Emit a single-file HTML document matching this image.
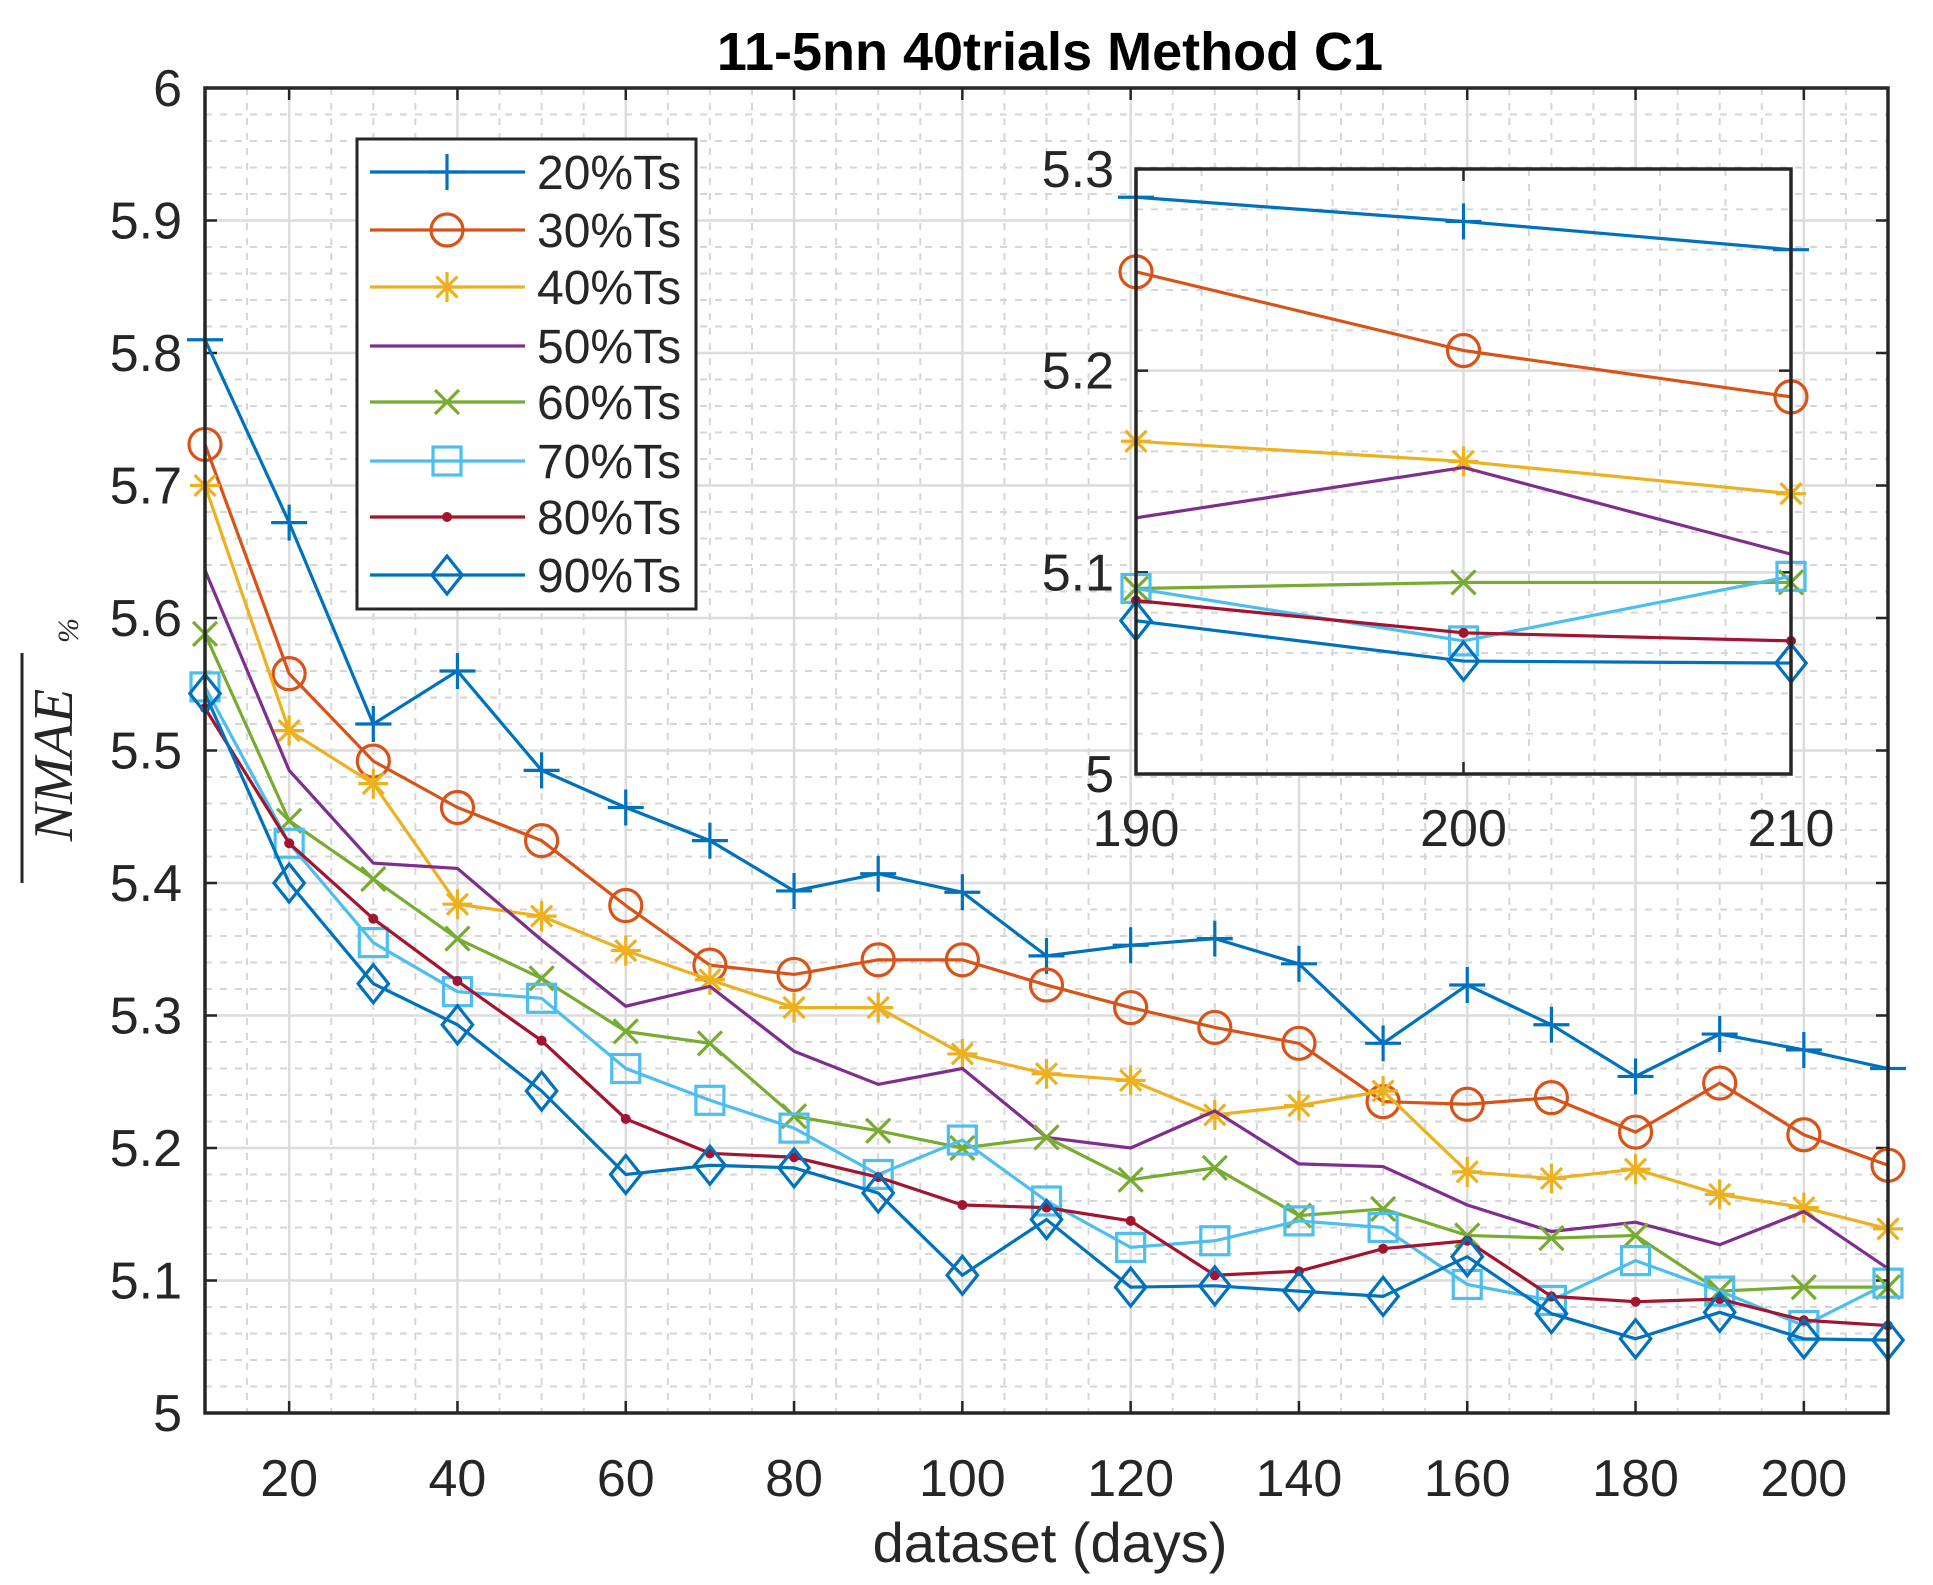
<!DOCTYPE html>
<html><head><meta charset="utf-8"><style>
html,body{margin:0;padding:0;background:#fff;width:1933px;height:1585px;overflow:hidden}
svg text{font-family:"Liberation Sans",sans-serif;fill:#262626}
</style></head><body>
<svg id="s" width="1933" height="1585" xmlns="http://www.w3.org/2000/svg">
<rect width="1933" height="1585" fill="#fff"/>
<text x="1050" y="70" font-size="54" font-weight="bold" text-anchor="middle" style="fill:#000">11-5nn 40trials Method C1</text>
<text x="1050" y="1562" font-size="56" text-anchor="middle">dataset (days)</text>
<g transform="translate(72,765) rotate(-90)">
<text x="0" y="0" font-size="56" font-style="italic" text-anchor="middle" style="font-family:'Liberation Serif',serif">NMAE</text>
<line x1="-118" y1="-50" x2="112" y2="-50" stroke="#262626" stroke-width="3"/>
<text x="122" y="6" font-size="30" font-style="italic" style="font-family:'Liberation Serif',serif">%</text>
</g>
<g id="main"></g>
</svg>
<script>
const NS="http://www.w3.org/2000/svg";
const svg=document.getElementById('main');
function el(t,a,p){const e=document.createElementNS(NS,t);for(const k in a)e.setAttribute(k,a[k]);(p||svg).appendChild(e);return e;}
const cols=['#0072BD','#D95319','#EDB120','#7E2F8E','#77AC30','#4DBEEE','#A2142F','#0072BD'];
const mk=['plus','circle','star','none','x','square','dot','diamond'];
const D=[
[5.81,5.672,5.52,5.56,5.485,5.457,5.432,5.394,5.407,5.393,5.345,5.353,5.358,5.339,5.279,5.323,5.293,5.254,5.286,5.274,5.26],
[5.731,5.558,5.492,5.457,5.432,5.383,5.338,5.331,5.342,5.342,5.323,5.306,5.291,5.279,5.235,5.233,5.238,5.212,5.249,5.21,5.187],
[5.70,5.515,5.475,5.384,5.375,5.349,5.327,5.306,5.306,5.271,5.256,5.251,5.225,5.232,5.243,5.182,5.177,5.184,5.165,5.155,5.139],
[5.636,5.485,5.415,5.411,5.357,5.307,5.322,5.273,5.248,5.26,5.208,5.2,5.228,5.188,5.186,5.157,5.137,5.144,5.127,5.152,5.109],
[5.588,5.447,5.403,5.358,5.328,5.288,5.279,5.224,5.213,5.2,5.208,5.176,5.185,5.149,5.154,5.134,5.132,5.134,5.092,5.095,5.095],
[5.548,5.43,5.355,5.318,5.313,5.26,5.236,5.215,5.18,5.206,5.16,5.125,5.13,5.145,5.14,5.097,5.085,5.115,5.092,5.066,5.098],
[5.532,5.43,5.373,5.326,5.281,5.222,5.196,5.193,5.178,5.157,5.155,5.145,5.104,5.107,5.124,5.13,5.088,5.084,5.086,5.07,5.066],
[5.543,5.4,5.324,5.293,5.243,5.18,5.187,5.185,5.166,5.104,5.146,5.095,5.096,5.092,5.088,5.118,5.075,5.056,5.076,5.056,5.055]];
function marker(g,type,x,y,c,s){
 s=s||1;const st={stroke:c,'stroke-width':3.2,fill:'none'};
 if(type==='plus'){el('path',Object.assign({d:`M${x-18*s} ${y}H${x+18*s}M${x} ${y-18*s}V${y+18*s}`},st),g);}
 else if(type==='circle'){el('circle',Object.assign({cx:x,cy:y,r:16*s},st),g);}
 else if(type==='star'){const r=15*s,d=r*0.7;el('path',Object.assign({d:`M${x-r} ${y}H${x+r}M${x} ${y-r}V${y+r}M${x-d} ${y-d}L${x+d} ${y+d}M${x-d} ${y+d}L${x+d} ${y-d}`},st),g);}
 else if(type==='x'){const d=12*s;el('path',Object.assign({d:`M${x-d} ${y-d}L${x+d} ${y+d}M${x-d} ${y+d}L${x+d} ${y-d}`},st),g);}
 else if(type==='square'){const d=14*s;el('rect',Object.assign({x:x-d,y:y-d,width:2*d,height:2*d},st),g);}
 else if(type==='dot'){el('circle',{cx:x,cy:y,r:5,fill:c},g);}
 else if(type==='diamond'){const d=19*s;el('path',Object.assign({d:`M${x} ${y-d}L${x+d*0.8} ${y}L${x} ${y+d}L${x-d*0.8} ${y}Z`},st),g);}
}
function axes(L,T,R,B,x0,x1,y0,y1,xmaj,xmin,ymaj,ymin,fs,xlabY,ylabR,xfmt,yfmt,clipId){
 const X=v=>L+(v-x0)/(x1-x0)*(R-L), Y=v=>B-(v-y0)/(y1-y0)*(B-T);
 el('rect',{x:L,y:T,width:R-L,height:B-T,fill:'#fff'});
 const eps=1e-6;
 for(let v=Math.ceil(x0/xmin)*xmin;v<=x1+eps;v+=xmin){if(Math.abs(v/xmaj-Math.round(v/xmaj))<eps)continue;el('line',{x1:X(v),x2:X(v),y1:T,y2:B,stroke:'#d6d6d6','stroke-width':2,'stroke-dasharray':'7 8'});}
 for(let v=y0;v<=y1+eps;v+=ymin){if(Math.abs(v/ymaj-Math.round(v/ymaj))<1e-4)continue;el('line',{x1:L,x2:R,y1:Y(v),y2:Y(v),stroke:'#d6d6d6','stroke-width':2,'stroke-dasharray':'7 8'});}
 for(let v=Math.ceil(x0/xmaj)*xmaj;v<=x1+eps;v+=xmaj){el('line',{x1:X(v),x2:X(v),y1:T,y2:B,stroke:'#dcdcdc','stroke-width':2.5});
  el('line',{x1:X(v),x2:X(v),y1:B,y2:B-12,stroke:'#262626','stroke-width':2.5});el('line',{x1:X(v),x2:X(v),y1:T,y2:T+12,stroke:'#262626','stroke-width':2.5});
  el('text',{x:X(v),y:xlabY,'font-size':fs,'text-anchor':'middle'}).textContent=xfmt(v);}
 for(let v=y0;v<=y1+eps;v+=ymaj){el('line',{x1:L,x2:R,y1:Y(v),y2:Y(v),stroke:'#dcdcdc','stroke-width':2.5});
  el('line',{x1:L,x2:L+12,y1:Y(v),y2:Y(v),stroke:'#262626','stroke-width':2.5});el('line',{x1:R,x2:R-12,y1:Y(v),y2:Y(v),stroke:'#262626','stroke-width':2.5});
  el('text',{x:ylabR,y:Y(v)+18,'font-size':fs,'text-anchor':'end'}).textContent=yfmt(v);}
 const cp=el('clipPath',{id:clipId});el('rect',{x:L-25,y:T-25,width:R-L+50,height:B-T+50},cp);
 return {X,Y,box:()=>el('rect',{x:L,y:T,width:R-L,height:B-T,fill:'none',stroke:'#262626','stroke-width':3.5})};
}
function fmtY(v){const r=Math.round(v*10)/10;return (Math.abs(r-Math.round(r))<1e-6)?String(Math.round(r)):r.toFixed(1);}
const A=axes(205,88,1888,1413,10,210,5,6,20,5,0.1,0.02,52,1496,182,v=>String(Math.round(v)),fmtY,'c1');
const xs=[];for(let i=0;i<21;i++)xs.push(10+i*10);
D.forEach((d,k)=>{const g=el('g',{'clip-path':'url(#c1)'});
 el('polyline',{points:d.map((v,i)=>A.X(xs[i])+','+A.Y(v)).join(' '),fill:'none',stroke:cols[k],'stroke-width':3.2},g);
 d.forEach((v,i)=>marker(g,mk[k],A.X(xs[i]),A.Y(v),cols[k]));});
A.box();
el('rect',{x:357,y:139,width:339,height:470,fill:'#fff',stroke:'#262626','stroke-width':3});
const ly=[172,230,287,346,402,461,517,575];
ly.forEach((y,k)=>{el('line',{x1:370,x2:525,y1:y,y2:y,stroke:cols[k],'stroke-width':3.2});marker(svg,mk[k],447,y,cols[k]);
 el('text',{x:537,y:y+17,'font-size':48}).textContent=(20+10*k)+'%Ts';});
const B2=axes(1136,169,1791,774,190,210,5,5.3,10,2,0.1,0.02,52,846,1114,v=>String(Math.round(v)),fmtY,'c2');
D.forEach((d,k)=>{const g=el('g',{'clip-path':'url(#c2)'});const sub=d.slice(18);
 el('polyline',{points:sub.map((v,i)=>B2.X(190+i*10)+','+B2.Y(v)).join(' '),fill:'none',stroke:cols[k],'stroke-width':3.2},g);
 sub.forEach((v,i)=>marker(g,mk[k],B2.X(190+i*10),B2.Y(v),cols[k]));});
B2.box();
</script>
</body></html>
